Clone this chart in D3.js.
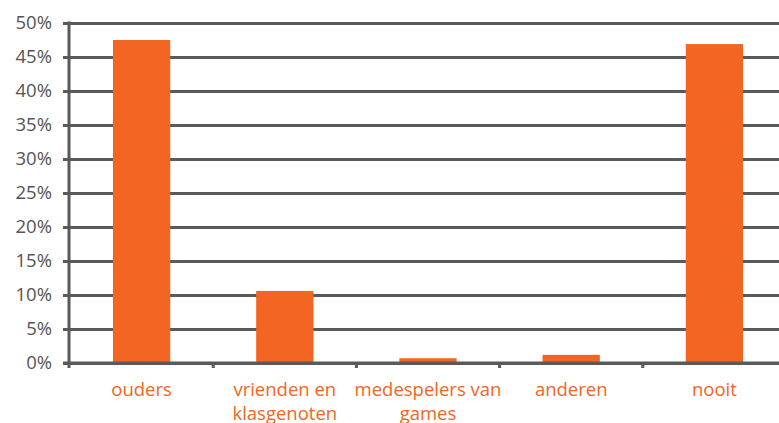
<!DOCTYPE html>
<html>
<head>
<meta charset="utf-8">
<script src="https://cdn.jsdelivr.net/npm/d3@7"></script>
<style>
  body { margin: 0; background: #fff; }
  svg { display: block; }
</style>
</head>
<body>
<div id="chart"></div>
<script>
// data
var categories = ["ouders", "vrienden en klasgenoten", "medespelers van games", "anderen", "nooit"];
var labelLines = [["ouders"], ["vrienden en", "klasgenoten"], ["medespelers van", "games"], ["anderen"], ["nooit"]];
var values = [0.475, 0.106, 0.007, 0.012, 0.469];
var yTicks = [0, 0.05, 0.10, 0.15, 0.20, 0.25, 0.30, 0.35, 0.40, 0.45, 0.50];

var width = 779, height = 423;
var orange = "#f26522", grey = "#595b5b";
var x0 = 70, x1 = 786;

var svg = d3.select("#chart").append("svg")
    .attr("width", width)
    .attr("height", height);

var x = d3.scaleBand()
    .domain(categories)
    .range([x0, x1])
    .paddingInner(0.6)
    .paddingOuter(0.3);

var xOuter = d3.scaleBand()
    .domain(categories)
    .range([x0, x1]);

var y = d3.scaleLinear()
    .domain([0, 0.5])
    .range([363, 23]);

// gridlines + y ticks
var yAxis = svg.append("g")
    .attr("transform", "translate(69,0)")
    .call(d3.axisLeft(y)
        .tickValues(yTicks)
        .tickSize(-(x1 - 69))
        .tickSizeOuter(0)
        .tickPadding(17)
        .tickFormat(d => Math.round(d * 100) + "%"));

yAxis.select(".domain").remove();
yAxis.selectAll(".tick line")
    .attr("x1", -6)
    .attr("stroke", grey)
    .attr("stroke-width", 3);
yAxis.selectAll(".tick text")
    .attr("fill", "#555")
    .attr("font-family", "'Open Sans', sans-serif")
    .attr("font-size", 18.5);

// bars
svg.selectAll("rect.bar")
    .data(values)
    .join("rect")
    .attr("class", "bar")
    .attr("x", (d, i) => x(categories[i]))
    .attr("width", x.bandwidth())
    .attr("y", d => y(d))
    .attr("height", d => y(0) - y(d))
    .attr("fill", orange);

// redraw baseline on top of bars
svg.append("line")
    .attr("x1", 63).attr("x2", x1)
    .attr("y1", y(0)).attr("y2", y(0))
    .attr("stroke", grey).attr("stroke-width", 3);

// vertical axis line
svg.append("line")
    .attr("x1", 69).attr("x2", 69)
    .attr("y1", y(0.5) - 1.5).attr("y2", y(0) + 5)
    .attr("stroke", grey).attr("stroke-width", 3);

// x category ticks between bands
var boundaries = categories.map(c => xOuter(c)).slice(1);
svg.selectAll("line.xtick")
    .data(boundaries)
    .join("line")
    .attr("class", "xtick")
    .attr("x1", d => d).attr("x2", d => d)
    .attr("y1", y(0)).attr("y2", y(0) + 5)
    .attr("stroke", grey).attr("stroke-width", 3);

// x labels
var labels = svg.selectAll("text.xlabel")
    .data(labelLines)
    .join("text")
    .attr("class", "xlabel")
    .attr("text-anchor", "middle")
    .attr("fill", orange)
    .attr("font-family", "'Open Sans', sans-serif")
    .attr("font-size", 18.5)
    .attr("x", (d, i) => xOuter(categories[i]) + xOuter.bandwidth() / 2)
    .attr("y", 396);

labels.selectAll("tspan")
    .data(d => d)
    .join("tspan")
    .attr("x", function () { return d3.select(this.parentNode).attr("x"); })
    .attr("dy", (d, i) => i === 0 ? 0 : 24)
    .text(d => d);
</script>
</body>
</html>
